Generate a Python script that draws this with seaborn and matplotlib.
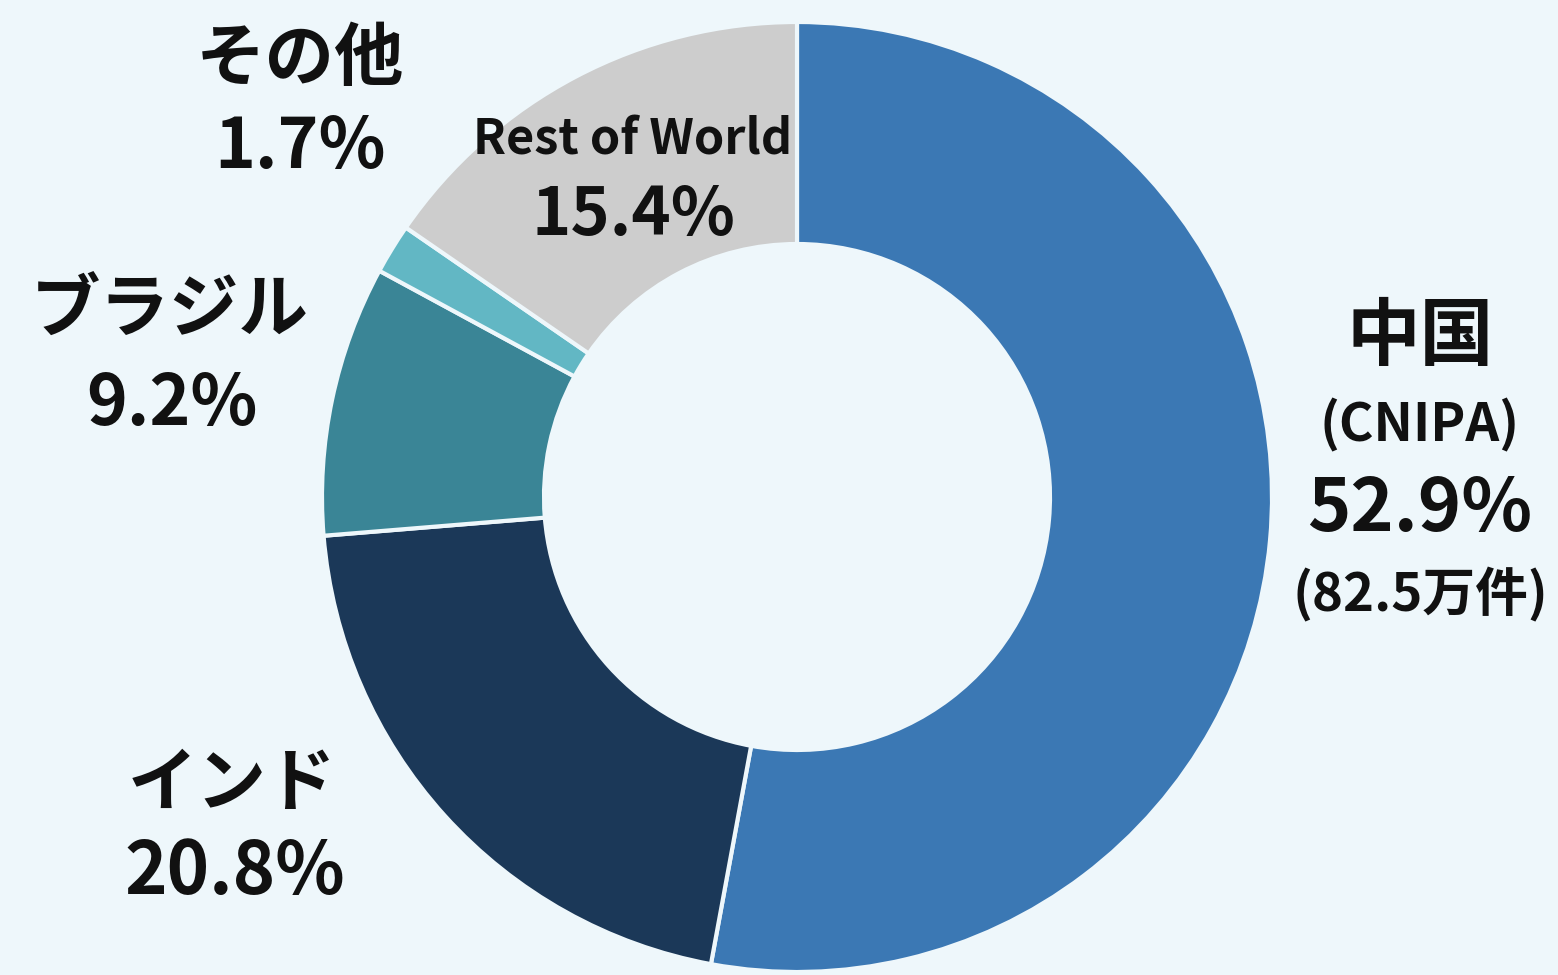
import matplotlib
matplotlib.use("Agg")
import matplotlib.pyplot as plt
import seaborn as sns

labels = ["中国", "インド", "ブラジル", "その他", "Rest of World"]
shares = [52.9, 20.8, 9.2, 1.7, 15.4]
colors = ["#3B78B4", "#1B3858", "#3A8596", "#62B7C4", "#CDCDCD"]
bg = "#EEF7FB"

sns.set_theme(style="white")
plt.rcParams['font.family'] = ['Noto Sans CJK JP', 'DejaVu Sans']

W, H = 1558, 975
fig = plt.figure(figsize=(W / 100, H / 100), dpi=100, facecolor=bg)
ax = fig.add_axes([0, 0, 1, 1])
ax.set_facecolor(bg)

cx, cy, R, r_in = 797, H - 497, 475, 253
ax.pie(shares, colors=sns.color_palette(colors), startangle=90, counterclock=False,
       center=(cx, cy), radius=R, frame=True,
       wedgeprops=dict(width=R - r_in, edgecolor=bg, linewidth=3))
ax.set_xlim(0, W)
ax.set_ylim(0, H)
ax.set_aspect("equal")
ax.axis("off")

def t(x, y, s, size, **kw):
    ax.text(x, H - y, s, fontsize=size, fontweight="bold", ha="center", va="center",
            color="#111111", **kw)

# その他
t(300, 60, labels[3], 50)
t(300, 148, f"{shares[3]}%", 50)
# Rest of World
t(633, 140, labels[4], 35)
t(633, 216, f"{shares[4]}%", 48)
# ブラジル
t(170, 312, labels[2], 50)
t(172, 405, f"{shares[2]}%", 50)
# 中国
t(1420, 338, labels[0], 53)
t(1420, 425, "(CNIPA)", 38)
t(1420, 510, f"{shares[0]}%", 53)
t(1420, 595, "(82.5万件)", 38)
# インド
t(232, 785, labels[1], 50)
t(235, 873, f"{shares[1]}%", 52)

fig.savefig("out.png", dpi=100, facecolor=bg)
